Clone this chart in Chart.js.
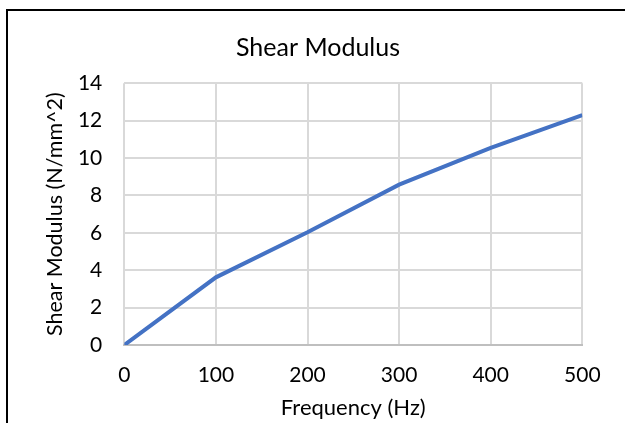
<!DOCTYPE html>
<html>
<head>
<meta charset="utf-8">
<title>Shear Modulus</title>
<script src="https://cdn.jsdelivr.net/npm/chart.js@4"></script>
<style>
  html, body { margin: 0; padding: 0; background: #fff; }
  #wrap { position: relative; width: 625px; height: 423px; overflow: hidden; }
  /* frame around the chart, runs off the right and bottom edges */
  #frame {
    position: absolute; left: 6px; top: 9px; width: 700px; height: 500px;
    border-left: 2px solid #000; border-top: 2px solid #000;
    pointer-events: none;
  }
</style>
</head>
<body>
<div id="wrap">
  <canvas id="shearChart" width="625" height="423"></canvas>
  <div id="frame"></div>
</div>
<script>
// Frequency (Hz) against shear modulus (N/mm^2)
const frequency = [0, 100, 200, 300, 400, 500];
const shearModulus = [0, 3.62, 6.03, 8.58, 10.55, 12.3];
const xTicks = [0, 100, 200, 300, 400, 500];
const yTicks = [0, 2, 4, 6, 8, 10, 12, 14];

const fontFamily = "Lato, 'Noto Sans', sans-serif";
const gridColor = "#D9D9D9";

const ctx = document.getElementById("shearChart").getContext("2d");
new Chart(ctx, {
  type: "line",
  data: {
    datasets: [
      {
        label: "Shear Modulus",
        data: frequency.map((f, i) => ({ x: f, y: shearModulus[i] })),
        borderColor: "#4472C4",
        borderWidth: 4,
        pointRadius: 0,
        tension: 0,
        fill: false,
      },
    ],
  },
  options: {
    responsive: false,
    animation: false,
    layout: { padding: { left: 11, right: 0, top: 0, bottom: 0 } },
    plugins: {
      legend: { display: false },
      tooltip: { enabled: false },
      title: {
        display: true,
        text: "Shear Modulus",
        color: "#000",
        font: { family: fontFamily, size: 25, weight: "normal", lineHeight: 1.2 },
        padding: { top: 33, bottom: 20.3 },
      },
    },
    scales: {
      x: {
        type: "linear",
        min: xTicks[0],
        max: xTicks[xTicks.length - 1],
        afterBuildTicks: (scale) => {
          scale.ticks = xTicks.map((v) => ({ value: v }));
        },
        afterFit: (scale) => {
          scale.height = 78;
        },
        grid: { color: gridColor, lineWidth: 2, drawTicks: false },
        border: { color: "#BFBFBF", width: 2 },
        ticks: {
          color: "#000",
          padding: 18,
          maxRotation: 0,
          font: { family: fontFamily, size: 21 },
        },
        title: {
          display: true,
          text: "Frequency (Hz)",
          color: "#000",
          font: { family: fontFamily, size: 22 },
          padding: { top: 0, bottom: 2 },
        },
      },
      y: {
        min: yTicks[0],
        max: yTicks[yTicks.length - 1],
        afterBuildTicks: (scale) => {
          scale.ticks = yTicks.map((v) => ({ value: v }));
        },
        afterFit: (scale) => {
          scale.width = 124.3 - 11;
        },
        grid: { color: gridColor, lineWidth: 2, drawTicks: false },
        border: { display: false },
        ticks: {
          color: "#000",
          padding: 22,
          font: { family: fontFamily, size: 21 },
        },
        title: {
          display: true,
          text: "Shear Modulus (N/mm^2)",
          color: "#000",
          font: { family: fontFamily, size: 21.5 },
          padding: { top: 31, bottom: 0 },
        },
      },
      // empty right-hand strip so the plot area ends where the frame needs it
      yRight: {
        position: "right",
        display: true,
        grid: { display: false, drawTicks: false },
        border: { display: false },
        ticks: { display: false },
        afterFit: (scale) => {
          scale.width = 42.7;
        },
      },
    },
  },
});
</script>
</body>
</html>
